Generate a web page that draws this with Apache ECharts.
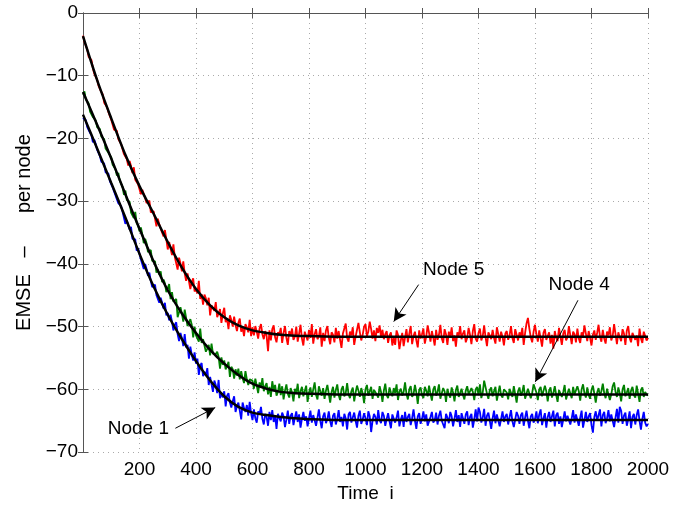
<!DOCTYPE html>
<html>
<head>
<meta charset="utf-8">
<script src="https://cdn.jsdelivr.net/npm/echarts@6/dist/echarts.min.js"></script>
<style>
  html, body { margin: 0; padding: 0; background: #fff; }
  #chart { width: 694px; height: 508px; }
</style>
</head>
<body>
<div id="chart"></div>
<script>
// simulated EMSE curves (dB), one sample every 5 iterations, i = 0..2000
const node5Noisy = [
  -3.6, -4.6, -4.8, -5.8, -7.0, -7.1, -7.5, -8.8, -9.7, -9.8,
  -10.6, -11.6, -11.3, -12.6, -13.0, -14.3, -14.0, -15.0, -15.8, -15.8,
  -17.0, -17.1, -18.6, -18.5, -18.8, -20.1, -20.2, -20.9, -20.9, -22.5,
  -22.2, -23.3, -24.3, -23.6, -24.4, -25.5, -24.6, -26.6, -26.5, -27.3,
  -27.1, -28.9, -28.2, -28.3, -29.5, -30.3, -30.1, -29.9, -31.8, -31.6,
  -31.6, -32.8, -34.0, -32.8, -33.7, -34.4, -34.2, -35.6, -34.6, -36.1,
  -37.7, -36.5, -36.7, -38.6, -36.9, -38.9, -38.8, -40.9, -39.0, -39.9,
  -41.2, -39.6, -41.5, -42.7, -41.5, -41.5, -44.0, -42.9, -42.3, -44.4,
  -44.0, -44.7, -42.7, -45.6, -44.8, -46.5, -44.9, -45.5, -46.6, -45.4,
  -48.2, -46.6, -46.4, -47.5, -46.1, -48.5, -47.9, -47.2, -49.4, -47.9,
  -47.0, -49.3, -48.7, -50.4, -48.2, -48.9, -50.0, -48.4, -49.8, -50.7,
  -49.4, -48.7, -50.8, -50.1, -51.5, -49.6, -50.1, -50.9, -48.9, -51.5,
  -50.1, -51.4, -49.9, -50.8, -51.9, -50.3, -49.6, -51.2, -52.0, -50.7,
  -51.5, -53.9, -50.6, -52.2, -50.4, -49.8, -51.7, -52.5, -50.9, -51.3,
  -50.2, -52.6, -51.0, -49.9, -51.8, -52.9, -50.7, -51.4, -50.3, -52.1,
  -51.6, -50.0, -52.4, -51.1, -49.7, -51.9, -53.0, -50.8, -51.5, -52.2,
  -50.5, -51.8, -49.6, -52.7, -51.2, -50.4, -52.0, -51.6, -50.1, -53.2,
  -51.0, -52.3, -50.6, -49.9, -51.7, -52.8, -50.9, -51.3, -52.5, -50.2,
  -51.9, -50.7, -52.1, -53.4, -51.1, -50.3, -49.5, -51.8, -52.4, -50.8,
  -51.4, -50.1, -52.9, -51.6, -50.5, -49.4, -50.9, -52.2, -51.3, -50.0,
  -49.6, -51.5, -50.8, -49.2, -50.4, -51.9, -50.6, -52.3, -50.2, -51.0,
  -49.8, -51.7, -50.5, -52.0, -51.2, -50.7, -52.6, -51.4, -50.9, -53.0,
  -51.8, -52.9, -50.6, -51.3, -53.6, -52.2, -51.0, -53.1, -51.7, -50.4,
  -52.5, -51.1, -49.9, -52.8, -51.5, -50.8, -52.2, -53.3, -50.6, -51.9,
  -51.2, -50.3, -52.7, -51.6, -49.8, -51.0, -52.4, -50.7, -51.8, -53.0,
  -50.5, -52.1, -51.3, -49.7, -51.9, -52.6, -50.4, -51.2, -52.9, -50.8,
  -51.7, -50.1, -52.3, -51.4, -53.2, -50.9, -51.6, -49.9, -52.0, -51.1,
  -50.6, -52.5, -51.8, -50.2, -51.3, -52.8, -50.7, -49.6, -51.9, -52.4,
  -51.0, -50.3, -52.2, -51.5, -49.8, -51.7, -53.1, -50.9, -51.4, -52.0,
  -50.5, -51.8, -52.7, -50.1, -51.2, -52.4, -50.8, -51.6, -53.0, -51.1,
  -50.7, -52.1, -51.4, -49.9, -51.8, -52.6, -50.4, -51.3, -52.2, -50.9,
  -51.6, -50.2, -52.9, -51.0, -49.5, -48.6, -50.3, -51.7, -52.5, -50.8,
  -49.7, -51.2, -52.4, -50.6, -51.9, -53.2, -51.0, -50.4, -52.1, -51.5,
  -50.9, -52.7, -51.3, -53.5, -50.7, -51.8, -52.3, -50.2, -51.6, -52.9,
  -51.1, -50.5, -52.2, -51.7, -49.9, -51.4, -52.8, -50.8, -51.2, -52.5,
  -50.3, -51.9, -52.6, -50.9, -51.5, -49.8, -51.1, -52.3, -50.7, -51.8,
  -53.0, -51.3, -50.6, -52.1, -51.0, -49.7, -51.6, -52.4, -50.5, -51.9,
  -52.7, -50.8, -51.4, -50.1, -52.2, -51.5, -49.6, -51.2, -52.8, -50.9,
  -51.7, -52.3, -50.4, -51.1, -52.9, -50.6, -49.9, -51.8, -52.5, -51.0,
  -50.7, -52.1, -51.4, -53.1, -50.3, -51.9, -52.6, -50.8, -51.5, -52.2,
  -51.8
];
const node4Noisy = [
  -13.0, -12.5, -13.8, -14.1, -14.4, -15.7, -15.7, -16.6, -16.3, -17.1,
  -18.2, -18.4, -18.5, -19.7, -19.8, -20.1, -21.6, -21.5, -22.3, -22.1,
  -23.0, -24.2, -24.0, -24.9, -25.9, -25.5, -26.7, -27.0, -27.7, -29.0,
  -28.3, -29.8, -29.8, -30.1, -31.8, -31.5, -32.7, -31.7, -33.5, -33.9,
  -34.8, -34.2, -35.3, -36.7, -36.0, -36.7, -38.1, -38.2, -37.8, -39.5,
  -39.4, -39.6, -41.4, -40.9, -41.7, -41.2, -42.9, -42.5, -43.1, -44.5,
  -44.3, -43.2, -45.6, -44.5, -46.0, -45.9, -45.6, -48.5, -47.7, -46.9,
  -47.9, -49.2, -47.3, -48.6, -49.9, -49.7, -48.8, -49.7, -51.7, -50.0,
  -51.4, -51.4, -52.4, -50.3, -52.6, -52.0, -51.9, -54.0, -53.5, -52.9,
  -54.6, -52.7, -54.3, -54.6, -54.4, -54.0, -54.8, -56.7, -54.9, -56.1,
  -55.4, -56.8, -56.3, -55.6, -58.0, -56.4, -56.8, -58.3, -56.8, -57.8,
  -56.7, -58.4, -57.1, -58.2, -59.0, -57.1, -58.4, -59.3, -58.4, -58.7,
  -58.6, -59.9, -58.3, -59.4, -60.6, -58.9, -59.7, -58.2, -60.3, -59.5,
  -59.0, -60.8, -59.6, -61.2, -58.7, -60.1, -59.3, -61.0, -60.4, -59.1,
  -60.9, -59.5, -61.6, -60.2, -59.2, -60.7, -61.3, -59.8, -60.5, -61.9,
  -59.9, -60.6, -59.1, -61.4, -60.3, -59.6, -61.1, -60.8, -59.4, -62.0,
  -60.5, -59.7, -61.2, -60.0, -58.9, -60.9, -61.6, -59.5, -60.3, -61.0,
  -59.8, -61.5, -60.2, -59.3, -60.7, -62.1, -60.4, -59.6, -61.3, -60.1,
  -59.2, -60.9, -61.7, -60.0, -59.5, -61.1, -60.6, -59.0, -60.8, -61.4,
  -60.3, -59.7, -61.9, -60.5, -59.4, -60.2, -61.2, -59.8, -60.6, -62.2,
  -60.0, -59.3, -61.0, -60.7, -59.6, -61.5, -60.1, -59.9, -60.8, -61.3,
  -59.5, -60.4, -62.0, -60.2, -59.1, -60.9, -61.4, -59.7, -60.5, -61.1,
  -59.8, -60.6, -59.2, -61.7, -60.3, -59.9, -61.0, -60.4, -58.9, -60.7,
  -61.6, -60.0, -59.5, -61.2, -60.8, -59.3, -60.5, -62.3, -60.1, -59.7,
  -60.9, -61.4, -59.6, -60.2, -61.1, -59.4, -60.7, -61.8, -60.0, -59.5,
  -61.0, -60.4, -59.2, -61.5, -60.6, -59.8, -60.3, -62.0, -59.9, -60.8,
  -61.3, -59.7, -60.5, -61.9, -60.1, -59.4, -61.2, -60.6, -59.9, -60.9,
  -61.6, -60.2, -59.5, -60.8, -61.1, -59.8, -60.4, -61.7, -60.0, -59.6,
  -60.9, -59.2, -61.4, -60.5, -58.6, -58.9, -60.7, -61.5, -60.1, -59.7,
  -61.1, -60.3, -59.6, -61.8, -60.6, -59.4, -60.9, -61.3, -60.0, -59.8,
  -60.5, -61.6, -59.9, -60.2, -61.2, -59.5, -60.8, -62.1, -60.3, -59.7,
  -61.0, -60.4, -59.3, -61.5, -60.7, -59.9, -60.1, -61.4, -60.6, -59.2,
  -58.9, -60.5, -61.7, -60.0, -59.6, -61.1, -60.8, -59.4, -60.3, -61.9,
  -60.2, -59.7, -61.3, -60.6, -59.5, -60.9, -62.0, -60.1, -59.8, -61.2,
  -60.4, -59.3, -61.6, -60.7, -59.9, -60.2, -61.4, -59.6, -60.8, -61.0,
  -59.5, -60.3, -61.8, -60.0, -59.2, -60.6, -61.3, -59.7, -60.9, -61.5,
  -60.1, -59.4, -60.7, -62.1, -60.5, -59.8, -61.0, -60.3, -59.1, -60.6,
  -61.4, -59.9, -60.2, -61.7, -60.8, -59.5, -58.9, -60.4, -61.2, -59.7,
  -60.6, -61.9, -60.0, -59.3, -61.1, -60.5, -59.8, -61.5, -60.2, -59.6,
  -60.9, -61.3, -59.4, -60.7, -62.0, -60.1, -59.7, -61.2, -60.4, -60.8,
  -61.0
];
const node1Noisy = [
  -16.7, -16.6, -17.1, -18.2, -17.9, -19.1, -19.5, -20.6, -20.2, -20.9,
  -21.8, -21.6, -22.8, -23.7, -23.6, -24.0, -25.4, -25.4, -25.6, -26.8,
  -27.1, -27.8, -27.5, -29.1, -29.2, -30.3, -30.1, -30.8, -31.7, -31.7,
  -33.6, -33.1, -33.4, -34.5, -34.1, -36.0, -36.1, -36.1, -37.9, -37.5,
  -37.5, -39.3, -39.3, -40.8, -40.0, -40.8, -41.9, -41.4, -42.7, -43.7,
  -43.4, -43.3, -45.0, -45.0, -46.2, -45.4, -46.2, -47.1, -46.2, -48.2,
  -47.8, -49.0, -48.1, -49.2, -50.6, -49.7, -49.3, -51.2, -52.3, -51.0,
  -51.8, -53.1, -51.2, -53.3, -52.9, -55.1, -53.2, -54.5, -55.4, -54.1,
  -55.9, -55.1, -57.7, -56.2, -55.8, -57.9, -57.2, -57.8, -56.6, -59.3,
  -58.0, -59.2, -60.4, -58.6, -59.3, -60.6, -58.5, -61.4, -60.6, -61.3,
  -60.3, -62.7, -61.0, -60.6, -62.1, -62.9, -61.9, -61.1, -63.6, -62.7,
  -62.1, -63.4, -64.8, -62.1, -63.0, -63.6, -62.5, -64.2, -62.0, -63.8,
  -64.9, -63.2, -64.6, -65.3, -63.5, -64.0, -62.8, -64.7, -65.6, -63.9,
  -64.4, -65.8, -63.6, -64.9, -63.3, -65.2, -64.1, -66.3, -63.9, -64.6,
  -65.1, -63.7, -64.3, -66.0, -64.8, -63.4, -65.5, -64.2, -63.8, -65.7,
  -64.5, -63.5, -65.2, -64.0, -66.1, -64.7, -63.6, -65.0, -64.3, -65.9,
  -64.6, -63.4, -65.3, -64.1, -63.9, -65.8, -64.5, -63.2, -65.0, -66.2,
  -64.3, -63.7, -65.4, -64.8, -63.5, -65.1, -66.0, -64.2, -63.8, -65.6,
  -64.7, -63.3, -65.2, -64.4, -65.9, -63.9, -64.6, -66.4, -64.0, -63.6,
  -65.3, -64.5, -63.7, -65.0, -66.1, -64.2, -63.4, -65.5, -64.8, -63.8,
  -64.6, -65.7, -63.5, -64.3, -66.8, -65.0, -63.9, -64.4, -65.6, -63.3,
  -64.9, -65.4, -63.6, -64.2, -65.8, -64.7, -63.8, -65.1, -66.2, -64.0,
  -63.7, -65.3, -64.5, -63.4, -65.9, -64.8, -64.1, -66.0, -63.6, -65.2,
  -64.4, -63.9, -65.7, -64.6, -63.2, -65.0, -66.3, -64.3, -63.8, -65.5,
  -64.7, -63.5, -65.1, -64.0, -65.8, -66.1, -64.4, -63.6, -65.3, -64.9,
  -63.7, -65.6, -64.2, -63.4, -65.0, -64.8, -66.2, -63.9, -64.5, -65.4,
  -63.6, -64.3, -65.9, -64.7, -63.3, -65.2, -64.1, -66.0, -63.8, -64.6,
  -65.5, -64.0, -63.5, -65.7, -64.4, -63.9, -66.1, -64.8, -63.2, -65.1,
  -62.9, -63.6, -65.3, -64.5, -63.1, -65.8, -64.2, -63.7, -65.0, -66.3,
  -64.6, -63.4, -65.4, -64.0, -63.8, -65.9, -64.7, -63.5, -65.2, -64.3,
  -63.9, -65.6, -64.4, -63.3, -65.1, -66.0, -64.8, -63.6, -64.2, -65.5,
  -64.1, -63.7, -65.8, -64.5, -63.4, -65.0, -66.2, -64.3, -63.9, -65.3,
  -64.7, -63.5, -65.4, -64.0, -63.2, -65.7, -64.6, -63.8, -66.1, -64.4,
  -63.6, -65.2, -64.9, -63.4, -65.9, -64.1, -63.7, -65.5, -64.3, -66.0,
  -64.8, -63.5, -65.1, -64.2, -63.9, -65.6, -64.6, -63.3, -65.3, -64.0,
  -63.7, -65.8, -64.5, -63.4, -66.1, -64.9, -63.6, -65.2, -64.3, -63.8,
  -65.7, -66.9, -64.4, -63.5, -65.0, -64.7, -63.2, -65.9, -64.1, -63.6,
  -65.4, -64.6, -63.3, -65.1, -64.0, -63.8, -66.0, -64.5, -63.1, -65.3,
  -62.8, -63.4, -65.5, -64.2, -63.7, -65.8, -64.8, -63.5, -66.2, -64.4,
  -63.9, -65.6, -64.1, -63.2, -65.0, -66.4, -64.7, -63.6, -65.3, -65.9,
  -65.5
];

// theoretical curves (black)
const theoryTime = [0, 50, 100, 150, 200, 250, 300, 350, 400, 450, 500, 550, 600, 650, 700, 750, 800, 900, 1000, 2000];
const node5Theory = [-3.7, -10.7, -16.8, -22.6, -27.6, -32.0, -36.5, -40.6, -44.0, -46.6, -48.5, -49.8, -50.6, -51.0, -51.3, -51.45, -51.5, -51.6, -51.6, -51.6];
const node4Theory = [-12.6, -17.8, -23.2, -28.9, -34.4, -39.6, -44.2, -47.9, -51.0, -53.7, -55.9, -57.7, -59.1, -59.9, -60.4, -60.6, -60.7, -60.8, -60.8, -60.8];
const node1Theory = [-16.2, -21.6, -27.1, -32.6, -38.4, -43.6, -48.1, -52.0, -55.5, -58.6, -61.1, -62.8, -63.7, -64.1, -64.4, -64.6, -64.75, -64.9, -64.9, -64.9];

const xTicks = [0, 2000, 200];
const yTicks = [-70, 0, 10];

// annotation: text position, arrow start, arrow tip
const noteLabels = ['Node 5', 'Node 4', 'Node 1'];
const noteText = [[1312, -40.9], [1756, -43.4], [196, -66.3]];
const noteFrom = [[1188, -43.3], [1752, -45.8], [327, -66.2]];
const noteTo = [[1100, -49.2], [1601, -58.8], [468, -62.9]];

const FONT = 'Liberation Sans';
const chart = echarts.init(document.getElementById('chart'));

const pair = (t, v) => v.map((y, k) => [t[k], y]);
const noisyTime = node5Noisy.map((_, k) => k * 5);

function noisy(name, color, values) {
  return {
    name: name, type: 'line', data: pair(noisyTime, values),
    showSymbol: false, symbol: 'none',
    lineStyle: { color: color, width: 1.8 }, z: 2
  };
}
function theory(name, values) {
  return {
    name: name, type: 'line', data: pair(theoryTime, values),
    showSymbol: false, symbol: 'none', smooth: 0.3,
    lineStyle: { color: '#000', width: 2.5 }, z: 3
  };
}

const minus = v => String(v).replace('-', '\u2212');

const boxAxis = {
  axisLine: { show: true, lineStyle: { color: '#555', width: 1 } },
  axisTick: { show: true, inside: true, length: 5, lineStyle: { color: '#555' } },
  axisLabel: { show: false },
  splitLine: { show: false }
};

const options = {
  animation: false,
  backgroundColor: '#fff',
  grid: { left: 83, right: 46, top: 13, bottom: 49 },
  xAxis: [
    {
      type: 'value', min: xTicks[0], max: xTicks[1], interval: xTicks[2],
      name: 'Time  i', nameLocation: 'middle', nameGap: 26,
      nameTextStyle: { fontFamily: FONT, fontSize: 19, color: '#000' },
      axisLine: { lineStyle: { color: '#555', width: 1 } },
      axisTick: { inside: true, length: 5, lineStyle: { color: '#555' } },
      axisLabel: {
        fontFamily: FONT, fontSize: 19, color: '#000', margin: 8,
        showMinLabel: false, formatter: minus
      },
      splitLine: { show: true, lineStyle: { color: '#aaa', type: [1, 4], width: 1 } }
    },
    Object.assign({}, boxAxis, { type: 'value', position: 'top', min: xTicks[0], max: xTicks[1], interval: xTicks[2] })
  ],
  yAxis: [
    {
      type: 'value', min: yTicks[0], max: yTicks[1], interval: yTicks[2],
      name: 'EMSE   \u2013      per node', nameLocation: 'middle', nameGap: 47,
      nameTextStyle: { fontFamily: FONT, fontSize: 20, color: '#000' },
      axisLine: { show: true, lineStyle: { color: '#555', width: 1 } },
      axisTick: { show: true, inside: true, length: 5, lineStyle: { color: '#555' } },
      axisLabel: { fontFamily: FONT, fontSize: 19, color: '#000', margin: 5, formatter: minus },
      splitLine: { show: true, lineStyle: { color: '#aaa', type: [1, 4], width: 1 } }
    },
    Object.assign({}, boxAxis, { type: 'value', position: 'right', min: yTicks[0], max: yTicks[1], interval: yTicks[2] })
  ],
  series: [
    noisy('Node 5', '#ff0000', node5Noisy),
    noisy('Node 4', '#008000', node4Noisy),
    noisy('Node 1', '#0000ff', node1Noisy),
    theory('Node 5 theory', node5Theory),
    theory('Node 4 theory', node4Theory),
    theory('Node 1 theory', node1Theory),
    {
      name: 'notes', type: 'line', data: [], z: 5,
      markLine: {
        silent: true, symbol: ['none', 'arrow'], symbolSize: [10, 13],
        lineStyle: { color: '#000', width: 1, type: 'solid' },
        label: { show: false },
        data: noteFrom.map((p, k) => [{ coord: p }, { coord: noteTo[k] }])
      },
      markPoint: {
        silent: true, symbol: 'circle', symbolSize: 0,
        label: {
          show: true, position: 'inside', color: '#000',
          fontFamily: FONT, fontSize: 19, formatter: p => p.name
        },
        data: noteLabels.map((n, k) => ({ name: n, coord: noteText[k] }))
      }
    }
  ]
};

chart.setOption(options);

window.addEventListener('resize', function () {
  chart.resize();
});
</script>
</body>
</html>
